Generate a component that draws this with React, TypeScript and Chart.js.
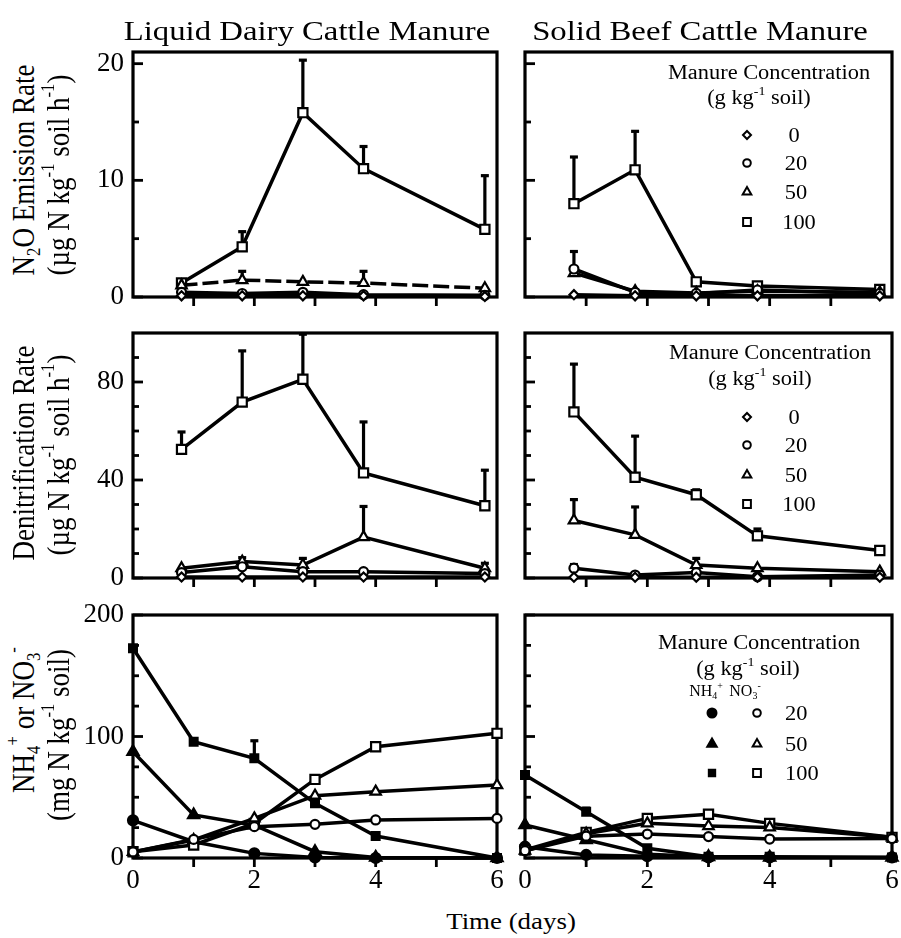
import React, { useEffect, useRef } from "react";
import { Chart, registerables } from "chart.js";
import { drawPoint } from "chart.js/helpers";
Chart.register(...registerables);

const FONT = '"Liberation Serif", "Times New Roman", Times, serif';

// ---------- axes ----------
const DAYS_RATE = [0.8, 1.8, 2.8, 3.8, 5.8];
const DAYS_N = [0, 1, 2, 3, 4, 6];
const X_TICK_MARKS = [1, 2, 3, 4, 5];
const X_TICK_LABELS = [0, 2, 4, 6];

const N2O_Y_LABELS = [0, 10, 20];
const N2O_Y_MINOR = [5, 15];
const N2O_Y_MAX = 21;
const DEN_Y_LABELS = [0, 40, 80];
const DEN_Y_MINOR = [10, 20, 30, 50, 60, 70, 90];
const DEN_Y_MAX = 100;
const NIT_Y_LABELS = [0, 100, 200];
const NIT_Y_MINOR = [25, 50, 75, 125, 150, 175];
const NIT_Y_MAX = 200;

const RATE_LEVELS = ["0", "20", "50", "100"];
const NIT_LEVELS = ["20", "50", "100"];

// ---------- N2O emission, liquid dairy ----------
const LIQ_N2O_0 = [0.1, 0.1, 0.1, 0.1, 0.05];
const LIQ_N2O_20 = [0.4, 0.3, 0.4, 0.2, 0.15];
const LIQ_N2O_50 = [1.0, 1.45, 1.3, 1.2, 0.75];
const LIQ_N2O_100 = [1.2, 4.3, 15.8, 11.0, 5.8];
const LIQ_N2O_50_ERR = [null, 2.2, null, 2.2, null];
const LIQ_N2O_100_ERR = [null, 5.6, 20.3, 12.9, 10.4];

// ---------- N2O emission, solid beef ----------
const SOL_N2O_0 = [0.2, 0.1, 0.1, 0.1, 0.1];
const SOL_N2O_20 = [2.4, 0.4, 0.3, 0.6, 0.3];
const SOL_N2O_50 = [2.05, 0.5, 0.35, 0.5, 0.4];
const SOL_N2O_100 = [8.0, 10.9, 1.3, 0.95, 0.65];
const SOL_N2O_20_ERR = [3.9, null, null, null, null];
const SOL_N2O_100_ERR = [12.0, 14.2, null, null, null];

// ---------- Denitrification, liquid dairy ----------
const LIQ_DEN_0 = [0.4, 0.4, 0.4, 0.4, 0.4];
const LIQ_DEN_20 = [2.2, 4.6, 2.6, 2.6, 1.8];
const LIQ_DEN_50 = [4.0, 6.7, 5.3, 16.7, 4.0];
const LIQ_DEN_100 = [52.5, 71.8, 81.1, 42.9, 29.5];
const LIQ_DEN_50_ERR = [null, 8.3, 8.0, 29.2, 6.0];
const LIQ_DEN_100_ERR = [59.6, 92.7, 99.5, 63.7, 44.0];

// ---------- Denitrification, solid beef ----------
const SOL_DEN_0 = [0.3, 0.3, 0.3, 0.3, 0.3];
const SOL_DEN_20 = [4.0, 1.2, 2.2, 0.5, 1.2];
const SOL_DEN_50 = [23.5, 17.6, 5.3, 4.0, 2.6];
const SOL_DEN_100 = [67.8, 41.1, 34.0, 17.2, 11.2];
const SOL_DEN_20_ERR = [5.5, null, null, null, null];
const SOL_DEN_50_ERR = [32.0, 29.0, 8.0, null, null];
const SOL_DEN_100_ERR = [87.3, 57.9, 36.0, 20.0, null];

// ---------- NH4+ / NO3-, liquid dairy ----------
const LIQ_NH4_20 = [31, 13.4, 3.8, 0.5, 0, 0];
const LIQ_NH4_50 = [87.5, 35.4, 27, 5.2, 0.5, 0];
const LIQ_NH4_100 = [172.6, 95.7, 82.1, 45, 18.1, 0];
const LIQ_NO3_20 = [5, 15.3, 25.8, 27.7, 31.3, 32.6];
const LIQ_NO3_50 = [5, 14.8, 32.6, 51.3, 54.6, 60];
const LIQ_NO3_100 = [5.2, 10.7, 28.5, 64.7, 91.6, 102.6];
const LIQ_NH4_100_ERR = [null, null, 96.5, null, null, null];

// ---------- NH4+ / NO3-, solid beef ----------
const SOL_NH4_20 = [9.3, 2.5, 1.5, 0.5, 0.5, 0.5];
const SOL_NH4_50 = [27.2, 15, 3, 1, 0.5, 0.5];
const SOL_NH4_100 = [68.3, 38.1, 8, 1, 1, 0.5];
const SOL_NO3_20 = [6, 18, 19.7, 17.6, 15.6, 16];
const SOL_NO3_50 = [6, 20, 28.5, 26.3, 25.2, 17];
const SOL_NO3_100 = [6.6, 21.1, 32.6, 36, 28.5, 17];
const SOL_NH4_100_ERR = [null, 41, null, null, null, null];

// ---------- marker sizes ----------
const RADIUS: any = { rectRot: 4.5, circle: 4.5, triangle: 6, rect: 6.5 };
const RADIUS_FILLED: any = { circle: 5, triangle: 6.5, rect: 5.5 };
const LEG_RADIUS: any = { rectRot: 4, circle: 3.8, triangle: 5, rect: 5.5 };
const LEG_RADIUS_FILLED: any = { circle: 4.5, triangle: 5.5, rect: 4.5 };

type Series = { label: string; style: string; filled?: boolean; data: number[]; err?: (number | null)[]; dash?: number[] };
type LegendMark = { style: string; filled?: boolean; dx: number; dy: number };
type PanelCfg = {
  left: number; top: number; w: number; h: number;
  yAxisW: number; xAxisH: number; padT: number; padR: number;
  yMax: number; yLabels: number[]; yMinor: number[];
  showY: boolean; showX: boolean;
  days: number[]; series: Series[]; legend?: LegendMark[];
};

const rateSeries = (d0: number[], d20: number[], d50: number[], d100: number[], e20: any, e50: any, e100: any, dash50?: number[]): Series[] => [
  { label: RATE_LEVELS[0], style: "rectRot", data: d0 },
  { label: RATE_LEVELS[1], style: "circle", data: d20, err: e20 },
  { label: RATE_LEVELS[2], style: "triangle", data: d50, err: e50, dash: dash50 },
  { label: RATE_LEVELS[3], style: "rect", data: d100, err: e100 },
];

const nitSeries = (n20: number[], n50: number[], n100: number[], o20: number[], o50: number[], o100: number[], e100: any): Series[] => [
  { label: "NO3 " + NIT_LEVELS[0], style: "circle", data: o20 },
  { label: "NO3 " + NIT_LEVELS[1], style: "triangle", data: o50 },
  { label: "NO3 " + NIT_LEVELS[2], style: "rect", data: o100 },
  { label: "NH4 " + NIT_LEVELS[0], style: "circle", filled: true, data: n20 },
  { label: "NH4 " + NIT_LEVELS[1], style: "triangle", filled: true, data: n50 },
  { label: "NH4 " + NIT_LEVELS[2], style: "rect", filled: true, data: n100, err: e100 },
];

const rateLegend = (dys: number[]): LegendMark[] => [
  { style: "rectRot", dx: 222, dy: dys[0] },
  { style: "circle", dx: 222, dy: dys[1] },
  { style: "triangle", dx: 222, dy: dys[2] },
  { style: "rect", dx: 222, dy: dys[3] },
];
const nitLegend: LegendMark[] = [
  { style: "circle", filled: true, dx: 187, dy: 98 },
  { style: "triangle", filled: true, dx: 187, dy: 129 },
  { style: "rect", filled: true, dx: 187, dy: 158 },
  { style: "circle", dx: 232, dy: 98 },
  { style: "triangle", dx: 232, dy: 129 },
  { style: "rect", dx: 232, dy: 158 },
];

const LEFT = { left: 60, w: 456, yAxisW: 73, padR: 19 };
const RIGHT = { left: 507, w: 404, yAxisW: 18, padR: 19 };
const ROW1 = { top: 24, h: 301, padT: 28, xAxisH: 28 };
const ROW2 = { top: 305, h: 301, padT: 28, xAxisH: 28 };
const ROW3 = { top: 587, h: 313, padT: 28, xAxisH: 42 };

const PANELS: PanelCfg[] = [
  { ...LEFT, ...ROW1, yMax: N2O_Y_MAX, yLabels: N2O_Y_LABELS, yMinor: N2O_Y_MINOR, showY: true, showX: false, days: DAYS_RATE,
    series: rateSeries(LIQ_N2O_0, LIQ_N2O_20, LIQ_N2O_50, LIQ_N2O_100, null, LIQ_N2O_50_ERR, LIQ_N2O_100_ERR, [16, 5]) },
  { ...RIGHT, ...ROW1, yMax: N2O_Y_MAX, yLabels: N2O_Y_LABELS, yMinor: N2O_Y_MINOR, showY: false, showX: false, days: DAYS_RATE,
    series: rateSeries(SOL_N2O_0, SOL_N2O_20, SOL_N2O_50, SOL_N2O_100, SOL_N2O_20_ERR, null, SOL_N2O_100_ERR), legend: rateLegend([83, 111, 140, 170]) },
  { ...LEFT, ...ROW2, yMax: DEN_Y_MAX, yLabels: DEN_Y_LABELS, yMinor: DEN_Y_MINOR, showY: true, showX: false, days: DAYS_RATE,
    series: rateSeries(LIQ_DEN_0, LIQ_DEN_20, LIQ_DEN_50, LIQ_DEN_100, null, LIQ_DEN_50_ERR, LIQ_DEN_100_ERR) },
  { ...RIGHT, ...ROW2, yMax: DEN_Y_MAX, yLabels: DEN_Y_LABELS, yMinor: DEN_Y_MINOR, showY: false, showX: false, days: DAYS_RATE,
    series: rateSeries(SOL_DEN_0, SOL_DEN_20, SOL_DEN_50, SOL_DEN_100, SOL_DEN_20_ERR, SOL_DEN_50_ERR, SOL_DEN_100_ERR), legend: rateLegend([84, 112, 142, 171]) },
  { ...LEFT, ...ROW3, yMax: NIT_Y_MAX, yLabels: NIT_Y_LABELS, yMinor: NIT_Y_MINOR, showY: true, showX: true, days: DAYS_N,
    series: nitSeries(LIQ_NH4_20, LIQ_NH4_50, LIQ_NH4_100, LIQ_NO3_20, LIQ_NO3_50, LIQ_NO3_100, LIQ_NH4_100_ERR) },
  { ...RIGHT, ...ROW3, yMax: NIT_Y_MAX, yLabels: NIT_Y_LABELS, yMinor: NIT_Y_MINOR, showY: false, showX: true, days: DAYS_N,
    series: nitSeries(SOL_NH4_20, SOL_NH4_50, SOL_NH4_100, SOL_NO3_20, SOL_NO3_50, SOL_NO3_100, SOL_NH4_100_ERR), legend: nitLegend },
];

function Panel({ p }: { p: PanelCfg }) {
  const ref = useRef<HTMLCanvasElement>(null);
  useEffect(() => {
    const canvas = ref.current!;
    const tickFont = { family: FONT, size: 27, lineHeight: 1 };
    const plugin = {
      id: "frameAndErrors",
      beforeDatasetsDraw(chart: any) {
        const { ctx, chartArea: a, scales } = chart;
        ctx.save();
        ctx.strokeStyle = "#000";
        ctx.lineWidth = 3.2;
        ctx.strokeRect(a.left, a.top, a.right - a.left, a.bottom - a.top);
        ctx.lineWidth = 2.8;
        // y ticks (inward)
        p.yLabels.forEach((v) => {
          const y = scales.y.getPixelForValue(v);
          ctx.beginPath(); ctx.moveTo(a.left, y); ctx.lineTo(a.left + 10, y); ctx.stroke();
        });
        p.yMinor.forEach((v) => {
          const y = scales.y.getPixelForValue(v);
          ctx.beginPath(); ctx.moveTo(a.left, y); ctx.lineTo(a.left + 6, y); ctx.stroke();
        });
        // x ticks (outward)
        X_TICK_MARKS.forEach((v) => {
          const x = scales.x.getPixelForValue(v);
          ctx.beginPath(); ctx.moveTo(x, a.bottom); ctx.lineTo(x, a.bottom + 9); ctx.stroke();
        });
        // error bars
        ctx.lineWidth = 3.2;
        chart.data.datasets.forEach((ds: any) => {
          if (!ds.err) return;
          ds.err.forEach((e: number | null, i: number) => {
            if (e == null) return;
            const x = scales.x.getPixelForValue(ds.data[i].x);
            const y0 = scales.y.getPixelForValue(ds.data[i].y);
            const y1 = scales.y.getPixelForValue(e);
            ctx.beginPath(); ctx.moveTo(x, y0); ctx.lineTo(x, y1); ctx.stroke();
            ctx.beginPath(); ctx.moveTo(x - 4, y1); ctx.lineTo(x + 4, y1); ctx.stroke();
          });
        });
        ctx.restore();
      },
      afterDraw(chart: any) {
        const { ctx, chartArea: a } = chart;
        (p.legend || []).forEach((m) => {
          ctx.save();
          ctx.fillStyle = m.filled ? "#000" : "#fff";
          ctx.strokeStyle = "#000";
          ctx.lineWidth = 2;
          const r = m.filled ? LEG_RADIUS_FILLED[m.style] : LEG_RADIUS[m.style];
          drawPoint(ctx, { pointStyle: m.style, radius: r, borderWidth: 2, rotation: 0 } as any, a.left + m.dx, a.top + m.dy);
          ctx.restore();
        });
      },
    };
    const chart = new Chart(canvas, {
      type: "line",
      data: {
        datasets: p.series.map((s) => ({
          label: s.label,
          data: p.days.map((d, i) => ({ x: d, y: s.data[i] })),
          err: s.err,
          borderColor: "#000",
          borderWidth: 3.5,
          borderDash: s.dash || [],
          pointStyle: s.style,
          pointRadius: s.filled ? RADIUS_FILLED[s.style] : RADIUS[s.style],
          pointBackgroundColor: s.filled ? "#000" : "#fff",
          pointBorderColor: "#000",
          pointBorderWidth: 2.2,
          clip: false,
          tension: 0,
          fill: false,
        })) as any,
      },
      options: {
        animation: false,
        responsive: false,
        devicePixelRatio: 1,
        events: [],
        layout: { padding: { left: 0, right: p.padR, top: p.padT, bottom: 0 } },
        plugins: { legend: { display: false }, tooltip: { enabled: false } },
        scales: {
          x: {
            type: "linear", min: 0, max: 6,
            grid: { display: false, drawTicks: false },
            border: { display: false },
            ticks: { display: p.showX, font: tickFont, color: "#000", padding: 9, maxRotation: 0 },
            afterBuildTicks: (sc: any) => { sc.ticks = X_TICK_LABELS.map((v) => ({ value: v })); },
            afterFit: (sc: any) => { sc.height = p.xAxisH; },
          },
          y: {
            type: "linear", min: 0, max: p.yMax,
            grid: { display: false, drawTicks: false },
            border: { display: false },
            ticks: { display: p.showY, font: tickFont, color: "#000", padding: 9 },
            afterBuildTicks: (sc: any) => { sc.ticks = p.yLabels.map((v) => ({ value: v })); },
            afterFit: (sc: any) => { sc.width = p.yAxisW; },
          },
        },
      } as any,
      plugins: [plugin],
    });
    return () => chart.destroy();
  }, []);
  return (
    <canvas ref={ref} width={p.w} height={p.h}
      style={{ position: "absolute", left: p.left, top: p.top, width: p.w, height: p.h }} />
  );
}

const Sup = ({ c }: { c: string }) => <span style={{ fontSize: "0.62em", position: "relative", top: "-0.75em" }}>{c}</span>;
const Sub = ({ c }: { c: string }) => <span style={{ fontSize: "0.62em", position: "relative", top: "0.35em" }}>{c}</span>;

function Txt({ x, y, size, children, sx = 1.12, rot = false, align = "center" }: any) {
  let transform: string;
  if (rot) transform = `translate(-50%,-50%) rotate(-90deg) scaleY(${sx})`;
  else if (align === "left") transform = `translate(0,-50%) scaleX(${sx})`;
  else transform = `translate(-50%,-50%) scaleX(${sx})`;
  return (
    <div style={{
      position: "absolute", left: x, top: y, transform,
      transformOrigin: align === "left" ? "left center" : "center center",
      fontFamily: FONT, fontSize: size, lineHeight: 1, whiteSpace: "nowrap", color: "#000",
    }}>{children}</div>
  );
}

export default function App() {
  return (
    <div style={{ position: "absolute", left: 0, top: 0, width: 901, height: 938, overflow: "hidden", background: "#fff" }}>
      {PANELS.map((p, i) => <Panel key={i} p={p} />)}

      <Txt x={307} y={31} size={28} sx={1.17}>Liquid Dairy Cattle Manure</Txt>
      <Txt x={700} y={31} size={28} sx={1.17}>Solid Beef Cattle Manure</Txt>

      <Txt x={24} y={170} size={27} rot sx={1.13}>N<Sub c="2" />O Emission Rate</Txt>
      <Txt x={59} y={175} size={27} rot sx={1.13}>(µg N kg<Sup c="-1" /> soil h<Sup c="-1" />)</Txt>
      <Txt x={24} y={453} size={27} rot sx={1.13}>Denitrification Rate</Txt>
      <Txt x={59} y={455} size={27} rot sx={1.13}>(µg N kg<Sup c="-1" /> soil h<Sup c="-1" />)</Txt>
      <Txt x={24} y={720} size={27} rot sx={1.13}>NH<Sub c="4" /><Sup c="+" /> or NO<Sub c="3" /><Sup c="-" /></Txt>
      <Txt x={59} y={735} size={27} rot sx={1.13}>(mg N kg<Sup c="-1" /> soil)</Txt>

      <Txt x={769} y={72} size={20}>Manure Concentration</Txt>
      <Txt x={759} y={97} size={20}>(g kg<Sup c="-1" /> soil)</Txt>
      <Txt x={794} y={135} size={20}>{RATE_LEVELS[0]}</Txt>
      <Txt x={796} y={163} size={20}>{RATE_LEVELS[1]}</Txt>
      <Txt x={796} y={192} size={20}>{RATE_LEVELS[2]}</Txt>
      <Txt x={799} y={222} size={20}>{RATE_LEVELS[3]}</Txt>

      <Txt x={770} y={352} size={20}>Manure Concentration</Txt>
      <Txt x={760} y={378} size={20}>(g kg<Sup c="-1" /> soil)</Txt>
      <Txt x={794} y={417} size={20}>{RATE_LEVELS[0]}</Txt>
      <Txt x={796} y={445} size={20}>{RATE_LEVELS[1]}</Txt>
      <Txt x={796} y={475} size={20}>{RATE_LEVELS[2]}</Txt>
      <Txt x={799} y={504} size={20}>{RATE_LEVELS[3]}</Txt>

      <Txt x={759} y={642} size={20}>Manure Concentration</Txt>
      <Txt x={748} y={668} size={20}>(g kg<Sup c="-1" /> soil)</Txt>
      <Txt x={706} y={691} size={16} sx={1.0}>NH<Sub c="4" /><Sup c="+" /></Txt>
      <Txt x={745} y={691} size={16} sx={1.0}>NO<Sub c="3" /><Sup c="-" /></Txt>
      <Txt x={785} y={713} size={20} align="left">{NIT_LEVELS[0]}</Txt>
      <Txt x={785} y={744} size={20} align="left">{NIT_LEVELS[1]}</Txt>
      <Txt x={785} y={773} size={20} align="left">{NIT_LEVELS[2]}</Txt>

      <Txt x={511} y={921} size={24}>Time (days)</Txt>
    </div>
  );
}
